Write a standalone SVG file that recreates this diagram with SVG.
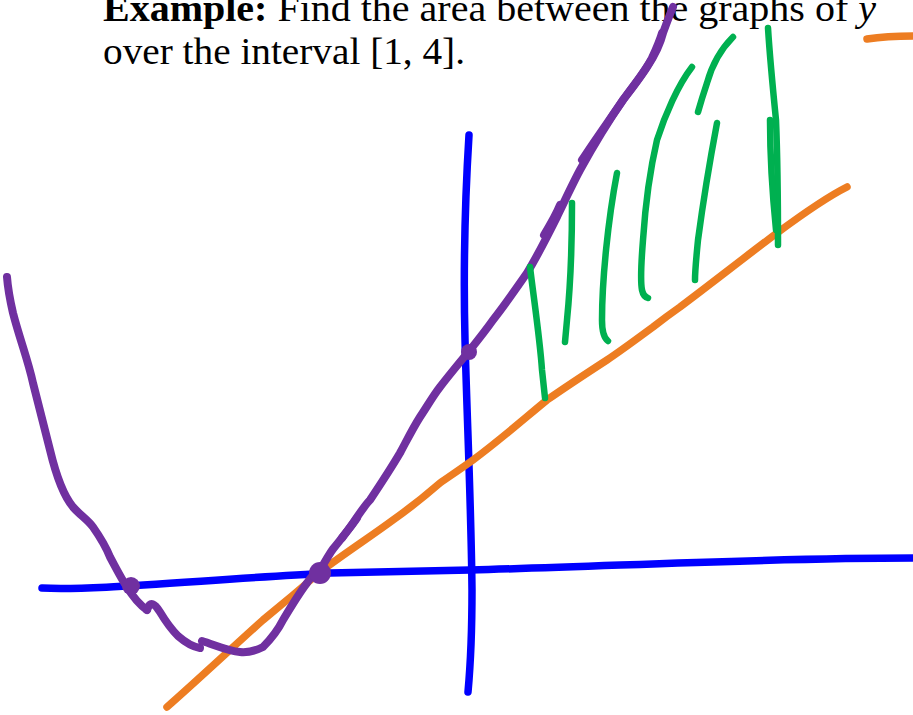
<svg xmlns="http://www.w3.org/2000/svg" width="913" height="715" viewBox="0 0 913 715">
<style>
.t{font-family:"Liberation Serif","DejaVu Serif",serif;font-size:38px;fill:#000}
.s{fill:none;stroke-linecap:round;stroke-linejoin:round}
.b{stroke:#0000ff;stroke-width:7.5}
.o{stroke:#ed7d22;stroke-width:7.5}
.p{stroke:#7030a0;stroke-width:8}
.g{stroke:#00b050;stroke-width:6.5}
</style>
<rect width="913" height="715" fill="#fff"/>
<g id="text">
<text class="t" x="103" y="21" textLength="773" lengthAdjust="spacingAndGlyphs"><tspan font-weight="bold">Example:</tspan> Find the area between the graphs of <tspan font-style="italic">y</tspan></text>
<text class="t" x="103" y="64" textLength="362" lengthAdjust="spacingAndGlyphs">over the interval [1, 4].</text>
</g>
<g id="axes">
<path class="s b" d="M42,588 C90,591 200,580 330,573 L470,570 C620,566 760,558 913,558"/>
<path class="s b" d="M469,135 C465,200 463,260 465,340 C467,420 471,500 472,590 C472,640 470,670 468,692"/>
</g>
<g id="orange-line">
<path class="s o" d="M167,707 C200,678 235,645 263,620 C285,602 305,585 320,572 C345,553 370,537 393,520 C410,508 425,496 440,483 C450,476 462,468 473,460 C500,440 525,418 547,400 C567,386 587,373 607,360 C622,350 638,338 653,327 C662,320 670,314 680,307 C712,283 745,257 777,233 C800,216 825,198 847,187"/>
<path class="s o" d="M867,39 C880,37 900,36 913,36"/>
</g>
<g id="purple-curve">
<path class="s p" d="M7,277 C8,290 10,300 13,313 C20,340 28,360 33,383 C40,410 45,430 50,450 C56,475 63,495 73,507 C80,515 88,520 93,527 C100,537 106,547 110,557 C116,568 122,580 127,587 C133,597 140,605 147,610"/>
<path class="s p" d="M147,610 C150,600 155,604 160,612 C166,622 170,628 178,636 C186,643 194,647 200,648"/>
<path class="s p" d="M202,641 C215,645 228,651 240,652 C250,653 257,650 263,647 C272,638 278,630 283,620 C292,605 300,592 307,583 C312,575 316,572 320,570 C326,560 330,553 333,549 C340,540 347,532 353,523 C360,513 365,505 370,500 C380,485 390,470 400,453 C407,440 413,428 420,417 C428,405 433,396 440,387 C450,374 460,362 470,350 C478,340 486,330 493,320 C505,305 515,290 527,273 C538,255 548,235 557,217 C565,200 572,185 580,170 C590,152 605,126 623,100 C633,87 640,78 647,67 C655,55 660,45 663,33 C667,22 670,14 673,7"/>
<path class="s p" stroke-width="11" d="M582,160 C595,140 608,122 623,100 C635,83 645,72 652,58 C657,47 660,40 662,33"/>
<path class="s p" stroke-width="10" d="M544,235 C550,225 556,215 560,205"/>
<path class="s p" stroke-width="10" d="M342,538 C348,530 353,524 357,518"/>
<circle cx="131" cy="586" r="9" fill="#7030a0"/>
<circle cx="320" cy="573" r="11" fill="#7030a0"/>
<circle cx="469" cy="352" r="8" fill="#7030a0"/>
</g>
<g id="shading">
<path class="s g" d="M530,267 C534,300 540,340 542,370 L545,398"/>
<path class="s g" d="M572,203 C572,240 570,290 567,320 L565,342"/>
<path class="s g" d="M617,173 C608,220 602,280 602,320 C602,332 604,338 608,341"/>
<path class="s g" d="M692,67 C678,85 665,115 657,140 C650,170 645,210 643,240 C641,265 641,285 642,290 C643,295 645,297 648,298"/>
<path class="s g" d="M733,37 C722,48 712,65 707,83 C703,95 700,105 698,112"/>
<path class="s g" d="M717,123 C710,160 702,210 698,240 C696,260 695,272 695,280"/>
<path class="s g" d="M768,28 C770,60 773,90 776,120 C778,170 778,210 778,245"/>
<path class="s g" stroke-width="7" d="M770,120 C770,160 773,200 776,230"/>
</g>
</svg>
